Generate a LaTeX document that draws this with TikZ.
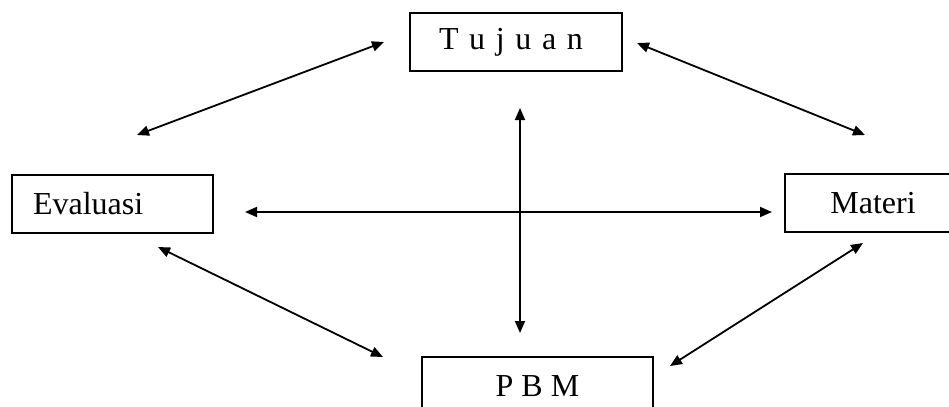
\documentclass[tikz,border=0pt]{standalone}
\usepackage{fontspec}
\setmainfont{Liberation Serif}
\usetikzlibrary{arrows.meta}

\begin{document}
\begin{tikzpicture}[x=0.5pt, y=-0.5pt,
  boxes/.style={draw, line width=1.2pt, inner ysep=0pt, minimum height=29pt,
    font=\fontsize{16}{19}\selectfont},
  links/.style={<->, line width=0.9pt, >={Triangle[length=6pt,width=5pt]}}]

 \useasboundingbox (0,0) rectangle (949,407);

 \node [boxes, text width=77pt, inner xsep=14.5pt, align=left] (box_tujuan) at (516,42)
     {T u j u a n};

 \node [boxes, text width=79.5pt, inner xsep=10.5pt, align=left] (box_evaluasi) at (112.5,204)
     {Evaluasi};

 \node [boxes, minimum width=88pt] (box_materi) at (873,203)
     {Materi};

 \node [boxes, minimum width=115.5pt] (box_pbm) at (537.5,386)
     {P B M};

 % free ends of the arrows
 \coordinate (tl_1) at (137,135);
 \coordinate (tl_2) at (384,42);
 \coordinate (tr_1) at (637,43);
 \coordinate (tr_2) at (865,135);
 \coordinate (hz_1) at (245,212);
 \coordinate (hz_2) at (772,212);
 \coordinate (vt_1) at (520,108);
 \coordinate (vt_2) at (520,333);
 \coordinate (bl_1) at (158,247);
 \coordinate (bl_2) at (383,357);
 \coordinate (br_1) at (863,243);
 \coordinate (br_2) at (670,366);

 \draw [links] (tl_1) -- (tl_2);
 \draw [links] (tr_1) -- (tr_2);
 \draw [links] (hz_1) -- (hz_2);
 \draw [links] (vt_1) -- (vt_2);
 \draw [links] (bl_1) -- (bl_2);
 \draw [links] (br_1) -- (br_2);

\end{tikzpicture}
\end{document}
